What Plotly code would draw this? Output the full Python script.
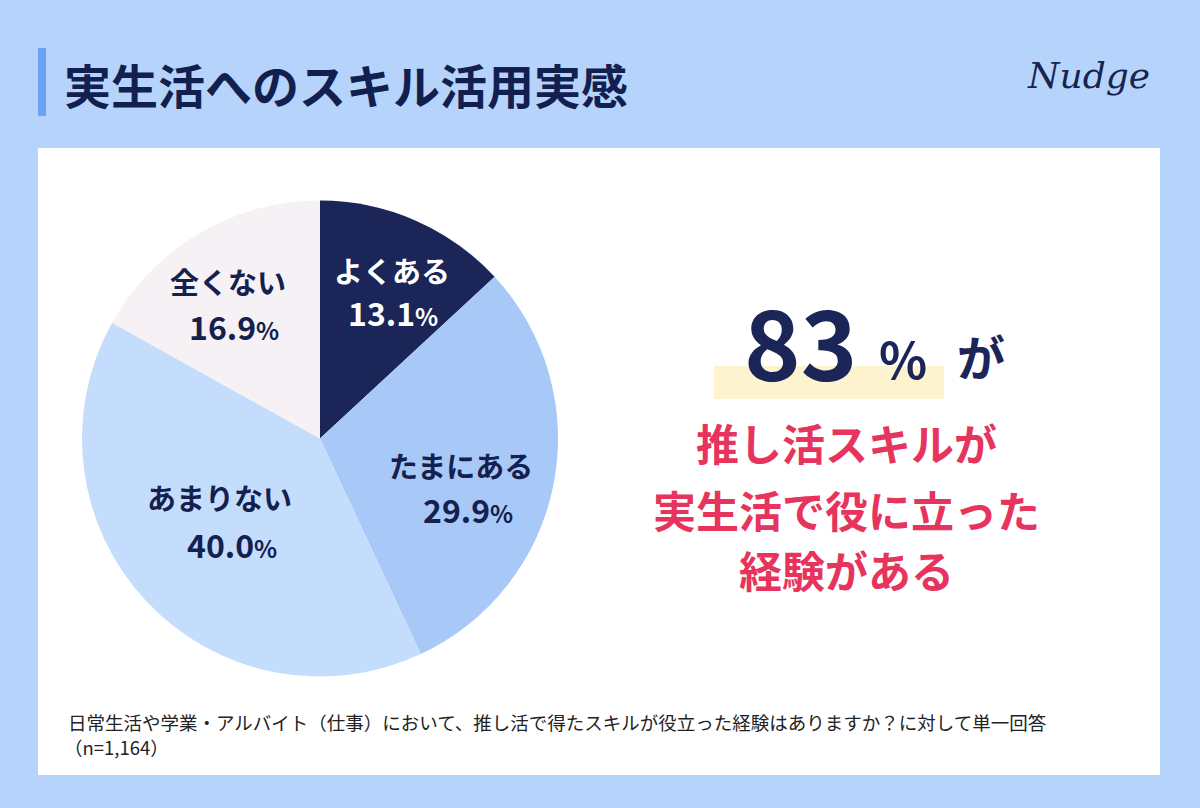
import plotly.graph_objects as go

labels = ["よくある", "たまにある", "あまりない", "全くない"]
values = [13.1, 29.9, 40.0, 16.9]
colors = ["#1b2557", "#a8c8f8", "#c4ddfc", "#f5f1f4"]
label_colors = ["#ffffff", "#14214f", "#14214f", "#14214f"]

title_text = "実生活へのスキル活用実感"
headline_num = "83"
headline_lines = ["推し活スキルが", "実生活で役に立った", "経験がある"]
footnote_lines = ["日常生活や学業・アルバイト（仕事）において、推し活で得たスキルが役立った経験はありますか？に対して単一回答",
                  "（n=1,164）"]

W, H = 1200, 808
FONT = "Noto Sans CJK JP"

def px(x):
    return x / W

def py(y):
    return 1 - y / H

fig = go.Figure()

cx, cy, r = 320, 438.5, 238
fig.add_trace(go.Pie(
    labels=labels, values=values, sort=False, direction="clockwise", rotation=0,
    marker=dict(colors=colors, line=dict(width=0)),
    textinfo="none", hoverinfo="label+value", showlegend=False,
    domain=dict(x=[px(cx - r), px(cx + r)], y=[py(cy + r), py(cy - r)]),
))

shapes = [
    dict(type="rect", xref="paper", yref="paper", x0=px(38), x1=px(1160), y0=py(775), y1=py(148),
         fillcolor="#ffffff", line=dict(width=0), layer="below"),
    dict(type="rect", xref="paper", yref="paper", x0=px(38), x1=px(46), y0=py(116), y1=py(48),
         fillcolor="#6ba1f1", line=dict(width=0), layer="below"),
    dict(type="rect", xref="paper", yref="paper", x0=px(714), x1=px(944), y0=py(399), y1=py(366),
         fillcolor="#fdf4cf", line=dict(width=0), layer="below"),
]

annotations = []

def add_text(x, y, text, size, color, xanchor="center", yanchor="middle", family=FONT, weight="bold", style="normal"):
    annotations.append(dict(x=px(x), y=py(y), xref="paper", yref="paper", text=text, showarrow=False,
                            xanchor=xanchor, yanchor=yanchor,
                            font=dict(size=size, color=color, family=family, weight=weight, style=style)))

# title
add_text(62, 84, title_text, 47, "#12204f", xanchor="left")
# logo
add_text(1088, 76, "Nudge", 36, "#16244f", family="DejaVu Serif", weight="normal", style="italic")

# pie labels
pos = [((392, 270), (393, 312)), ((461, 465), (468, 509)), ((219, 497), (232, 544)), ((228, 281), (234, 326))]
for lab, val, c, ((lx, ly), (vx, vy)) in zip(labels, values, label_colors, pos):
    add_text(lx, ly, lab, 29, c)
    add_text(vx, vy, f"{val:.1f}<span style='font-size:24px'>%</span>", 32, c)

# headline
add_text(742, 340, headline_num, 96, "#1b2557", xanchor="left")
add_text(877, 357, "%", 50, "#1b2557", xanchor="left")
add_text(955, 355, "が", 48, "#1b2557", xanchor="left")

for line, y in zip(headline_lines, [442, 509, 569]):
    add_text(846, y, line, 43, "#e6345c")

# footnote
add_text(66, 722, footnote_lines[0], 18.5, "#222222", xanchor="left", weight="normal")
add_text(62, 747, footnote_lines[1], 18.5, "#222222", xanchor="left", weight="normal")

fig.update_layout(
    width=W, height=H, margin=dict(l=0, r=0, t=0, b=0),
    paper_bgcolor="#b6d4fb", plot_bgcolor="#b6d4fb",
    shapes=shapes, annotations=annotations,
)

fig.write_html("out.html")
